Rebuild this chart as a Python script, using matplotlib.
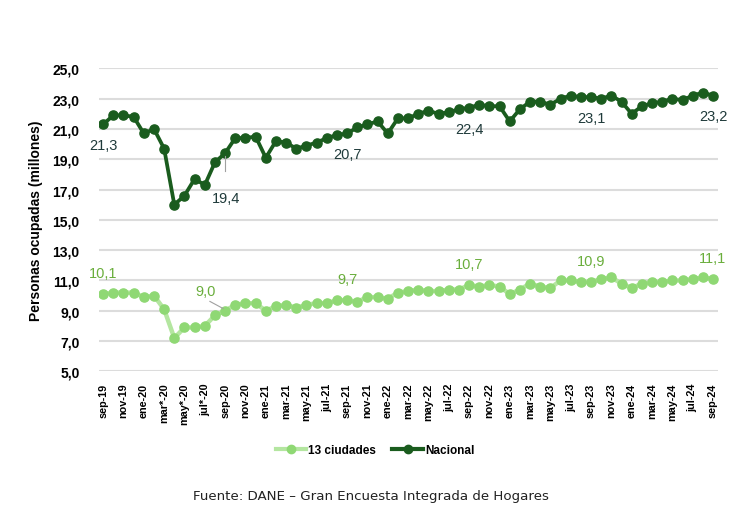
import matplotlib
matplotlib.use("Agg")
import matplotlib.pyplot as plt
from matplotlib.lines import Line2D

months = ["sep-19","oct-19","nov-19","dic-19","ene-20","feb-20","mar*-20","abr*-20","may*-20","jun*-20",
          "jul*-20","ago-20","sep-20","oct-20","nov-20","dic-20","ene-21","feb-21","mar-21","abr-21",
          "may-21","jun-21","jul-21","ago-21","sep-21","oct-21","nov-21","dic-21","ene-22","feb-22",
          "mar-22","abr-22","may-22","jun-22","jul-22","ago-22","sep-22","oct-22","nov-22","dic-22",
          "ene-23","feb-23","mar-23","abr-23","may-23","jun-23","jul-23","ago-23","sep-23","oct-23",
          "nov-23","dic-23","ene-24","feb-24","mar-24","abr-24","may-24","jun-24","jul-24","ago-24","sep-24"]

nacional = [21.3, 21.9, 21.9, 21.8, 20.7, 21.0, 19.7, 16.0, 16.6, 17.7,
            17.3, 18.8, 19.4, 20.4, 20.4, 20.5, 19.1, 20.2, 20.1, 19.7,
            19.9, 20.1, 20.4, 20.6, 20.7, 21.1, 21.3, 21.5, 20.7, 21.7,
            21.7, 22.0, 22.2, 22.0, 22.1, 22.3, 22.4, 22.6, 22.5, 22.5,
            21.5, 22.3, 22.8, 22.8, 22.6, 23.0, 23.2, 23.1, 23.1, 23.0,
            23.2, 22.8, 22.0, 22.5, 22.7, 22.8, 23.0, 22.9, 23.2, 23.4, 23.2]

ciudades = [10.1, 10.2, 10.2, 10.2, 9.9, 10.0, 9.1, 7.2, 7.9, 7.9,
            8.0, 8.7, 9.0, 9.4, 9.5, 9.5, 9.0, 9.3, 9.4, 9.2,
            9.4, 9.5, 9.5, 9.7, 9.7, 9.6, 9.9, 9.9, 9.8, 10.2,
            10.3, 10.4, 10.3, 10.3, 10.4, 10.4, 10.7, 10.6, 10.7, 10.6,
            10.1, 10.4, 10.8, 10.6, 10.5, 11.0, 11.0, 10.9, 10.9, 11.1,
            11.2, 10.8, 10.5, 10.8, 10.9, 10.9, 11.0, 11.0, 11.1, 11.2, 11.1]

tick_labels = months[::2]
yticks = [5, 7, 9, 11, 13, 15, 17, 19, 21, 23, 25]

nac_labels = [(0, "21,3"), (12, "19,4"), (24, "20,7"), (36, "22,4"), (48, "23,1"), (60, "23,2")]
ciu_labels = [(0, "10,1"), (12, "9,0"), (24, "9,7"), (36, "10,7"), (48, "10,9"), (60, "11,1")]

dark = "#1a5c1e"
light = "#8fd874"
light_line = "#b4e6a0"
dark_txt = "#1f3a3a"
light_txt = "#6aae3c"

fig = plt.figure(figsize=(7.38, 5.06), dpi=100)
ax = fig.add_axes([0.134, 0.264, 0.839, 0.599])

x = list(range(len(months)))
ax.plot(x, ciudades, color=light_line, lw=3.2, zorder=2)
ax.plot(x, ciudades, linestyle="none", marker="o", ms=6.6, color=light, mec=light, zorder=3)
ax.plot(x, nacional, color=dark, lw=2.7, marker="o", ms=6.6, mec=dark, zorder=4)

ax.set_xlim(-0.42, 60.5)
ax.set_ylim(5, 25)
ax.set_yticks(yticks)
ax.set_yticklabels([f"{v},0" for v in yticks], fontsize=10, fontweight="bold",
                   family=["Liberation Sans"])
ax.set_xticks(x[::2])
ax.set_xticklabels(tick_labels, rotation=90, fontsize=7.8, fontweight="bold",
                   family=["Liberation Sans"])
ax.tick_params(axis="y", length=0, pad=14)
ax.tick_params(axis="x", length=0, pad=8)
for s in ax.spines.values():
    s.set_visible(False)
ax.grid(axis="y", color="#dcdcdc", lw=1.5, zorder=0)
ax.set_axisbelow(True)

ax.set_ylabel("Personas ocupadas (millones)", fontsize=10, fontweight="bold",
              family=["Liberation Sans Narrow", "Liberation Sans"], labelpad=7)

fs = 10.5
for i, t in nac_labels:
    if i == 12:
        ax.plot([i, i], [nacional[i] - 0.2, nacional[i] - 1.2], color="#a0a0a0", lw=0.8, zorder=5)
        ax.annotate(t, (i, nacional[i]), xytext=(1, -32), textcoords="offset points",
                    ha="center", va="center", fontsize=fs, color=dark_txt,
                    family=["Liberation Sans"])
    else:
        ax.annotate(t, (i, nacional[i]), xytext=(0, -15), textcoords="offset points",
                    ha="center", va="center", fontsize=fs, color=dark_txt,
                    family=["Liberation Sans"])

for i, t in ciu_labels:
    if i == 12:
        ax.plot([i - 1.5, i - 0.2], [ciudades[i] + 0.62, ciudades[i] + 0.15], color="#a0a0a0",
                lw=0.8, zorder=5)
        ax.annotate(t, (i, ciudades[i]), xytext=(-14, 14), textcoords="offset points",
                    ha="center", va="center", fontsize=fs, color=light_txt,
                    family=["Liberation Sans"])
    else:
        ax.annotate(t, (i, ciudades[i]), xytext=(0, 15), textcoords="offset points",
                    ha="center", va="center", fontsize=fs, color=light_txt,
                    family=["Liberation Sans"])

h1 = Line2D([], [], color=light_line, lw=3, marker="o", ms=6, mfc=light, mec=light)
h2 = Line2D([], [], color=dark, lw=3, marker="o", ms=6, mfc=dark, mec=dark)
fig.legend([h1, h2], ["13 ciudades", "Nacional"], loc="center", bbox_to_anchor=(0.508, 0.108),
           ncol=2, frameon=False, handlelength=2.6, columnspacing=1.4, handletextpad=0.15,
           prop={"family": ["Liberation Sans Narrow", "Liberation Sans"], "weight": "bold", "size": 8.5})

fig.text(0.503, 0.018, "Fuente: DANE \u2013 Gran Encuesta Integrada de Hogares", ha="center", va="center",
         fontsize=9.6, family=["DejaVu Sans"], color="#222222")

fig.savefig("out.png", dpi=100, facecolor="white")
